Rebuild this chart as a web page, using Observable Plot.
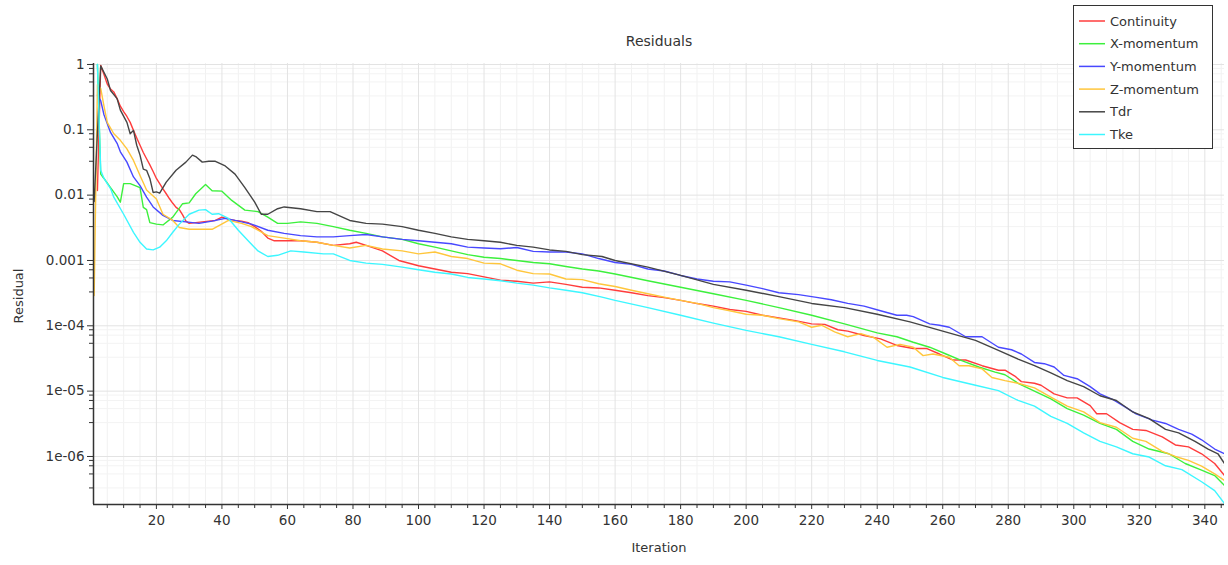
<!DOCTYPE html>
<html><head><meta charset="utf-8">
<script src="https://cdn.jsdelivr.net/npm/d3@7"></script>
<script src="https://cdn.jsdelivr.net/npm/@observablehq/plot@0.6"></script>
<style>
body{margin:0;background:#fff;}
#wrap{position:relative;width:1228px;height:565px;font-family:"DejaVu Sans",sans-serif;}
#legend{position:absolute;left:1073px;top:5px;}
</style></head>
<body><div id="wrap"><div id="chart"></div><div id="legend"></div></div>
<script>
const seriesNames = ["Continuity","X-momentum","Y-momentum","Z-momentum","Tdr","Tke"];
const seriesColors = ["#ff3c3c","#3cf03c","#4848ff","#ffc63c","#454545","#3cf6ff"];

const continuity = [[2,0.0118],[3,0.97],[4,0.70],[5,0.50],[6,0.42],[7,0.38],[8,0.30],[9,0.23],[10,0.19],[11,0.16],[12,0.13],[13,0.098],[14,0.075],[15,0.058],[16,0.045],[17,0.036],[18,0.029],[19,0.023],[20,0.018],[21,0.015],[22,0.0125],[23,0.0105],[24,0.0088],[25,0.0075],[26,0.0065],[27,0.0060],[28,0.0050],[29,0.0040],[30,0.0037],[32,0.0038],[34,0.0039],[36,0.0040],[38,0.0041],[40,0.0046],[42,0.0043],[44,0.0041],[46,0.0040],[48,0.0038],[50,0.0033],[52,0.0028],[54,0.0022],[56,0.0020],[58,0.0020],[60,0.0020],[64,0.0020],[69,0.0019],[74,0.0017],[79,0.0018],[81,0.0019],[84,0.0017],[89,0.0014],[94,0.0010],[100,0.00083],[105,0.00074],[110,0.00066],[115,0.00063],[120,0.00056],[125,0.00050],[130,0.00048],[135,0.00045],[140,0.00047],[145,0.00043],[150,0.00039],[155,0.00038],[160,0.00035],[165,0.00032],[170,0.00029],[175,0.00027],[180,0.000245],[185,0.000219],[190,0.000200],[195,0.000178],[200,0.000166],[205,0.000145],[210,0.000132],[215,0.000120],[220,0.000107],[224,0.000105],[228,0.000087],[231,0.000083],[236,0.000071],[241,0.000063],[246,0.000050],[251,0.000045],[255,0.000045],[259,0.000037],[263,0.000030],[267,0.000030],[272,0.0000245],[277,0.0000209],[279,0.000021],[282,0.0000170],[284,0.0000140],[288,0.0000132],[290,0.0000123],[294,0.0000091],[298,0.0000079],[301,0.0000079],[305,0.0000060],[307,0.0000045],[310,0.0000045],[314,0.0000033],[318,0.0000026],[322,0.0000025],[327,0.0000020],[331,0.0000015],[335,0.0000014],[339,0.0000011],[343,0.00000078],[346,0.00000051]];

const xMomentum = [[2,1.0],[3,0.021],[4,0.018],[6,0.013],[8,0.0095],[9,0.0078],[10,0.015],[12,0.015],[15,0.013],[16,0.0065],[17,0.006],[18,0.0038],[20,0.0036],[22,0.0035],[25,0.0046],[28,0.0074],[30,0.0076],[32,0.0105],[35,0.0145],[37,0.0117],[40,0.0115],[43,0.0083],[47,0.0059],[51,0.0056],[54,0.0046],[57,0.0037],[60,0.0037],[64,0.0039],[69,0.0037],[74,0.0033],[79,0.0029],[84,0.0026],[89,0.0023],[95,0.0021],[100,0.0018],[105,0.0016],[110,0.0014],[115,0.00123],[120,0.00112],[125,0.00107],[130,0.00100],[135,0.00093],[140,0.00089],[145,0.00081],[150,0.00074],[155,0.00069],[160,0.00062],[170,0.00049],[180,0.00039],[190,0.00031],[200,0.000245],[210,0.00019],[220,0.000145],[230,0.000107],[240,0.000078],[246,0.000068],[251,0.000056],[256,0.000047],[261,0.000037],[266,0.000029],[271,0.0000234],[276,0.0000195],[279,0.0000178],[283,0.0000132],[288,0.0000100],[293,0.0000076],[298,0.0000054],[303,0.0000043],[308,0.0000032],[313,0.0000026],[318,0.0000017],[323,0.0000013],[329,0.0000011],[334,0.00000078],[339,0.00000062],[343,0.00000051],[346,0.00000036]];

const yMomentum = [[2,0.34],[3,0.28],[4,0.17],[6,0.091],[8,0.062],[9,0.046],[11,0.032],[13,0.019],[15,0.014],[17,0.0093],[19,0.0066],[22,0.0049],[25,0.0041],[29,0.0039],[33,0.0037],[37,0.0040],[41,0.0044],[45,0.0040],[49,0.0036],[54,0.0029],[59,0.0026],[64,0.0024],[69,0.0023],[74,0.0023],[79,0.0024],[84,0.0025],[89,0.0023],[95,0.0021],[100,0.0020],[105,0.0019],[110,0.0018],[115,0.0016],[120,0.00155],[125,0.00151],[130,0.00158],[135,0.00138],[140,0.00135],[145,0.00135],[150,0.00126],[155,0.00107],[160,0.00093],[165,0.00087],[170,0.00074],[175,0.00069],[180,0.00059],[185,0.00052],[190,0.00048],[195,0.00047],[200,0.00042],[205,0.00037],[210,0.00032],[216,0.00030],[221,0.000275],[226,0.00025],[231,0.00022],[236,0.00020],[241,0.00017],[246,0.000145],[249,0.000145],[251,0.000138],[256,0.000107],[259,0.000102],[262,0.000095],[267,0.000068],[272,0.000068],[277,0.000047],[281,0.000043],[284,0.000037],[288,0.0000275],[291,0.0000263],[294,0.0000234],[297,0.0000174],[301,0.0000155],[305,0.0000117],[308,0.0000091],[312,0.0000074],[316,0.0000056],[319,0.0000045],[324,0.0000036],[328,0.0000032],[332,0.0000026],[336,0.0000022],[339,0.0000018],[343,0.0000013],[346,0.0000011]];

const zMomentum = [[1,0.00029],[2,0.49],[3,0.43],[4,0.23],[5,0.13],[7,0.087],[9,0.069],[11,0.051],[13,0.034],[15,0.020],[17,0.012],[20,0.0087],[22,0.0051],[25,0.0041],[27,0.0032],[30,0.0030],[33,0.0030],[37,0.0030],[42,0.0041],[46,0.0037],[49,0.0033],[54,0.0024],[59,0.0022],[64,0.0020],[69,0.0019],[74,0.0017],[79,0.00155],[84,0.0017],[89,0.0015],[95,0.0014],[100,0.00126],[105,0.00135],[110,0.00115],[115,0.00107],[120,0.00091],[125,0.00089],[130,0.00071],[135,0.00063],[140,0.00062],[145,0.00052],[150,0.00051],[155,0.00044],[160,0.00040],[165,0.00035],[170,0.00031],[175,0.000275],[180,0.000245],[185,0.00022],[190,0.00019],[195,0.00017],[200,0.00015],[205,0.000145],[210,0.000129],[216,0.000115],[220,0.000095],[223,0.000102],[227,0.000081],[231,0.000068],[235,0.000076],[239,0.000066],[243,0.000047],[247,0.000052],[251,0.000047],[254,0.000035],[257,0.000037],[262,0.000033],[265,0.0000245],[268,0.0000245],[272,0.0000219],[275,0.0000162],[279,0.0000145],[283,0.0000132],[288,0.0000112],[293,0.0000081],[298,0.0000059],[303,0.0000048],[308,0.0000033],[313,0.0000028],[318,0.0000019],[322,0.0000017],[327,0.0000012],[331,0.0000010],[335,0.00000087],[339,0.00000071],[343,0.00000054],[346,0.00000043]];

const tdr = [[1,0.008],[2,0.09],[3,0.95],[5,0.60],[6,0.40],[8,0.30],[9,0.20],[11,0.13],[12,0.087],[13,0.098],[14,0.058],[15,0.041],[16,0.025],[17,0.024],[18,0.018],[19,0.011],[20,0.0112],[21,0.0107],[23,0.0158],[26,0.024],[29,0.032],[31,0.041],[32,0.039],[34,0.032],[36,0.033],[38,0.033],[41,0.028],[44,0.021],[47,0.013],[50,0.0078],[52,0.0051],[54,0.0051],[57,0.0062],[59,0.0066],[64,0.0062],[69,0.0056],[73,0.0056],[79,0.0041],[84,0.0037],[89,0.0036],[95,0.0033],[100,0.0029],[105,0.0026],[110,0.0023],[115,0.0021],[120,0.0020],[125,0.0019],[130,0.0017],[135,0.0016],[140,0.00145],[145,0.00138],[150,0.00123],[156,0.00115],[160,0.0010],[170,0.00079],[180,0.00059],[190,0.00043],[200,0.00035],[210,0.00028],[220,0.00022],[230,0.00019],[240,0.00015],[250,0.000115],[260,0.000083],[270,0.00006],[277,0.000042],[283,0.000031],[288,0.0000245],[293,0.000019],[298,0.0000145],[303,0.0000117],[308,0.0000085],[313,0.0000072],[318,0.0000048],[323,0.0000038],[328,0.0000026],[332,0.0000023],[337,0.0000017],[341,0.0000013],[344,0.0000011],[346,0.00000078]];

const tke = [[2,1.0],[3,0.024],[4,0.018],[6,0.0126],[7,0.0093],[10,0.0051],[13,0.0027],[15,0.0019],[17,0.0015],[19,0.00145],[21,0.0016],[23,0.0020],[25,0.0027],[27,0.0036],[30,0.0051],[33,0.0059],[35,0.0060],[37,0.0051],[39,0.0052],[42,0.0044],[45,0.0029],[48,0.0020],[51,0.0014],[54,0.00115],[57,0.0012],[61,0.0014],[65,0.00135],[71,0.00126],[74,0.00126],[79,0.0010],[84,0.00091],[89,0.00087],[95,0.00079],[100,0.00072],[105,0.00066],[110,0.00062],[115,0.00055],[120,0.00052],[125,0.00049],[130,0.00045],[135,0.00042],[140,0.00038],[145,0.00035],[150,0.00032],[156,0.000275],[160,0.000245],[170,0.00019],[180,0.000145],[190,0.00011],[200,0.000085],[210,0.000068],[220,0.000052],[230,0.00004],[240,0.0000295],[250,0.0000234],[260,0.0000162],[270,0.0000123],[277,0.0000102],[283,0.0000072],[288,0.0000059],[293,0.0000041],[298,0.0000032],[303,0.0000023],[308,0.0000017],[313,0.0000014],[318,0.0000011],[323,0.00000098],[328,0.00000072],[333,0.00000063],[339,0.00000041],[343,0.0000003],[346,0.00000019]];

const xMajorTicks = [20,40,60,80,100,120,140,160,180,200,220,240,260,280,300,320,340];
const xMinorTicks = [5,10,15,25,30,35,45,50,55,65,70,75,85,90,95,105,110,115,125,130,135,145,150,155,165,170,175,185,190,195,205,210,215,225,230,235,245,250,255,265,270,275,285,290,295,305,310,315,325,330,335,345];
const yMajorTicks = [1,0.1,0.01,0.001,1e-4,1e-5,1e-6];
const yTickLabels = ["1","0.1","0.01","0.001","1e-04","1e-05","1e-06"];
const yMinorTicks = [0.87,0.72,0.54,0.33,0.087,0.072,0.054,0.033,0.0087,0.0072,0.0054,0.0033,0.00087,0.00072,0.00054,0.00033,8.7e-5,7.2e-5,5.4e-5,3.3e-5,8.7e-6,7.2e-6,5.4e-6,3.3e-6,8.7e-7,7.2e-7,5.4e-7,3.3e-7];

const allSeries = [continuity, xMomentum, yMomentum, zMomentum, tdr, tke];
const rows = [];
allSeries.forEach((s, k) => s.forEach(([it, v]) => rows.push({name: seriesNames[k], iter: it, value: v})));
const labelMap = new Map(yMajorTicks.map((v, i) => [v, yTickLabels[i]]));

const xDomain = [0.8, 346];
const yDomain = [1.84e-7, 1.035];
const ink = "#333";

const chart = Plot.plot({
  width: 1228, height: 565,
  marginLeft: 93, marginRight: 4, marginTop: 63, marginBottom: 61,
  style: {fontFamily: "DejaVu Sans, sans-serif", fontSize: "13.5px", color: ink, background: "#fff"},
  x: {type: "linear", domain: xDomain, label: null},
  y: {type: "log", domain: yDomain, label: null},
  color: {domain: seriesNames, range: seriesColors},
  marks: [
    Plot.ruleX(xMinorTicks, {stroke: "#f1f1f1", strokeWidth: 1}),
    Plot.ruleY(yMinorTicks, {stroke: "#f3f3f3", strokeWidth: 1}),
    Plot.ruleX(xMajorTicks, {stroke: "#e3e3e3", strokeWidth: 1}),
    Plot.ruleY(yMajorTicks, {stroke: "#e3e3e3", strokeWidth: 1}),
    Plot.line(rows, {x: "iter", y: "value", z: "name", stroke: "name", strokeWidth: 1.4, clip: true}),
    Plot.axisY(yMajorTicks, {tickFormat: d => labelMap.get(d), tickSize: 6, tickPadding: 3, label: null, stroke: ink, fill: ink}),
    Plot.axisY(yMinorTicks, {tickFormat: () => "", tickSize: 4, label: null, stroke: ink}),
    Plot.axisX(xMajorTicks, {tickFormat: d => String(d), tickSize: 5, tickPadding: 6, label: null, stroke: ink, fill: ink}),
    Plot.axisX(xMinorTicks, {tickFormat: () => "", tickSize: 4, label: null, stroke: ink}),
    Plot.ruleX([xDomain[0]], {stroke: ink, strokeWidth: 1.5}),
    Plot.ruleY([yDomain[0]], {stroke: ink, strokeWidth: 1.5}),
    Plot.text(["Residuals"], {frameAnchor: "top", dy: -27, fontSize: 14, fill: ink}),
    Plot.text(["Iteration"], {frameAnchor: "bottom", dy: 47, fontSize: 13, fill: ink})
  ]
});
d3.select(chart).append("text")
  .attr("transform", "translate(18,296) rotate(-90)")
  .attr("text-anchor", "middle").attr("dy", "0.35em")
  .attr("fill", ink).attr("font-size", 13)
  .text("Residual");
document.getElementById("chart").appendChild(chart);

// legend
const lw = 140, lh = 144;
const lsvg = d3.select("#legend").append("svg").attr("width", lw).attr("height", lh)
  .style("font-family", "DejaVu Sans, sans-serif").style("font-size", "13px");
lsvg.append("rect").attr("x", 0.5).attr("y", 0.5).attr("width", lw - 1).attr("height", lh - 1)
  .attr("fill", "#fff").attr("stroke", ink).attr("stroke-width", 1);
seriesNames.forEach((n, i) => {
  const cy = 16 + i * 22.7;
  lsvg.append("line").attr("x1", 6).attr("x2", 32).attr("y1", cy).attr("y2", cy)
    .attr("stroke", seriesColors[i]).attr("stroke-width", 1.5);
  lsvg.append("text").attr("x", 37).attr("y", cy).attr("dy", "0.35em").attr("fill", ink).text(n);
});
</script>
</body></html>
